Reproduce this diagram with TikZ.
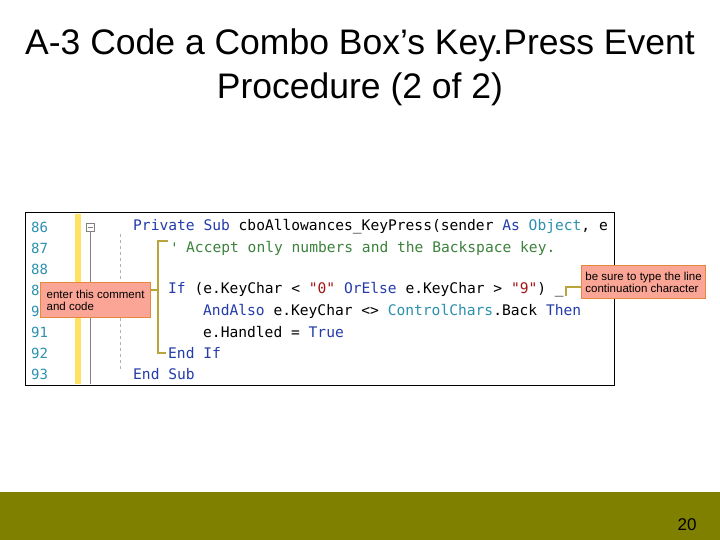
\documentclass[tikz,border=0pt]{standalone}
\usepackage{fontspec}
\setmainfont{Liberation Sans}
\newfontfamily\codefont{DejaVu Sans Mono}
\definecolor{kw}{RGB}{35,60,170}
\definecolor{cm}{RGB}{60,130,60}
\definecolor{ty}{RGB}{43,145,175}
\definecolor{st}{RGB}{163,21,21}
\definecolor{br}{RGB}{185,165,60}
\definecolor{cpink}{RGB}{250,165,150}
\definecolor{cbord}{RGB}{230,135,60}
\definecolor{olivebar}{RGB}{128,128,0}
\begin{document}
\begin{tikzpicture}[x=1pt,y=-1pt,
  code/.style={anchor=west,inner sep=0pt,font=\codefont\fontsize{14.6}{14.6}\selectfont},
  num/.style={anchor=west,inner sep=0pt,text=ty,font=\codefont\fontsize{14}{14}\selectfont},
  callout/.style={draw=cbord,line width=1.2pt,fill=cpink,align=left,anchor=north west,inner sep=2pt,font=\fontsize{11.5}{12}\selectfont},
  brk/.style={draw=br,line width=1.5pt}]
\useasboundingbox (0,0) rectangle (720,540);
\fill[white] (0,0) rectangle (720,540);
\node[font=\fontsize{35.5}{44}\selectfont,align=center] (title) at (360,67) {A-3 Code a Combo Box’s Key.Press Event\\Procedure (2 of 2)};
\fill[olivebar] (0,492) rectangle (720,540);
\node[font=\fontsize{17}{17}\selectfont] (pg) at (687,525) {20};
% code box
\draw[line width=1pt] (25,213) rectangle (614,385);
\fill[yellow!70!orange!60] (75,214) rectangle (81,384);
\draw[gray,line width=0.8pt] (90,232) -- (90,384);
\draw[gray] (86,223) rectangle (94,231);
\draw[gray] (87.5,227) -- (92.5,227);
\draw[gray!60,dashed] (120,234) -- (120,370);
\foreach \n [count=\i from 0] in {86,...,93}
  \node[num] (n\n) at (31,{227+21*\i}) {\n};
\node[code] (l86) at (133,227) {\textcolor{kw}{Private Sub} cboAllowances\_KeyPress(sender \textcolor{kw}{As} \textcolor{ty}{Object}, e};
\node[code] (l87) at (186,248) {\textcolor{cm}{Accept only numbers and the Backspace key.}};
\node[code,text=cm] (q87) at (170,248) {'};
\node[code] (l89) at (168,290) {\textcolor{kw}{If} (e.KeyChar < \textcolor{st}{"0"} \textcolor{kw}{OrElse} e.KeyChar > \textcolor{st}{"9"}) \_};
\node[code] (l90) at (203,311) {\textcolor{kw}{AndAlso} e.KeyChar <> \textcolor{ty}{ControlChars}.Back \textcolor{kw}{Then}};
\node[code] (l91) at (203,332) {e.Handled = \textcolor{kw}{True}};
\node[code] (l92) at (168,353) {\textcolor{kw}{End If}};
\node[code] (l93) at (133,374) {\textcolor{kw}{End Sub}};
% bracket
\draw[brk] (168,241) -- (158,241) -- (158,353) -- (166,353);
% callouts
\node[callout,minimum width=110pt,minimum height=35pt] (c1) at (40,282) {enter this comment\\and code};
\draw[brk] (c1.east |- 0,290) coordinate (c1e) -- (158,290);
\node[callout,minimum width=124pt,minimum height=33pt] (c2) at (581,265) {be sure to type the line\\continuation character};
\coordinate (u) at (566,296);
\draw[brk] (u) -- (566,287) -- (c2.west |- 0,287);
\end{tikzpicture}
\end{document}
